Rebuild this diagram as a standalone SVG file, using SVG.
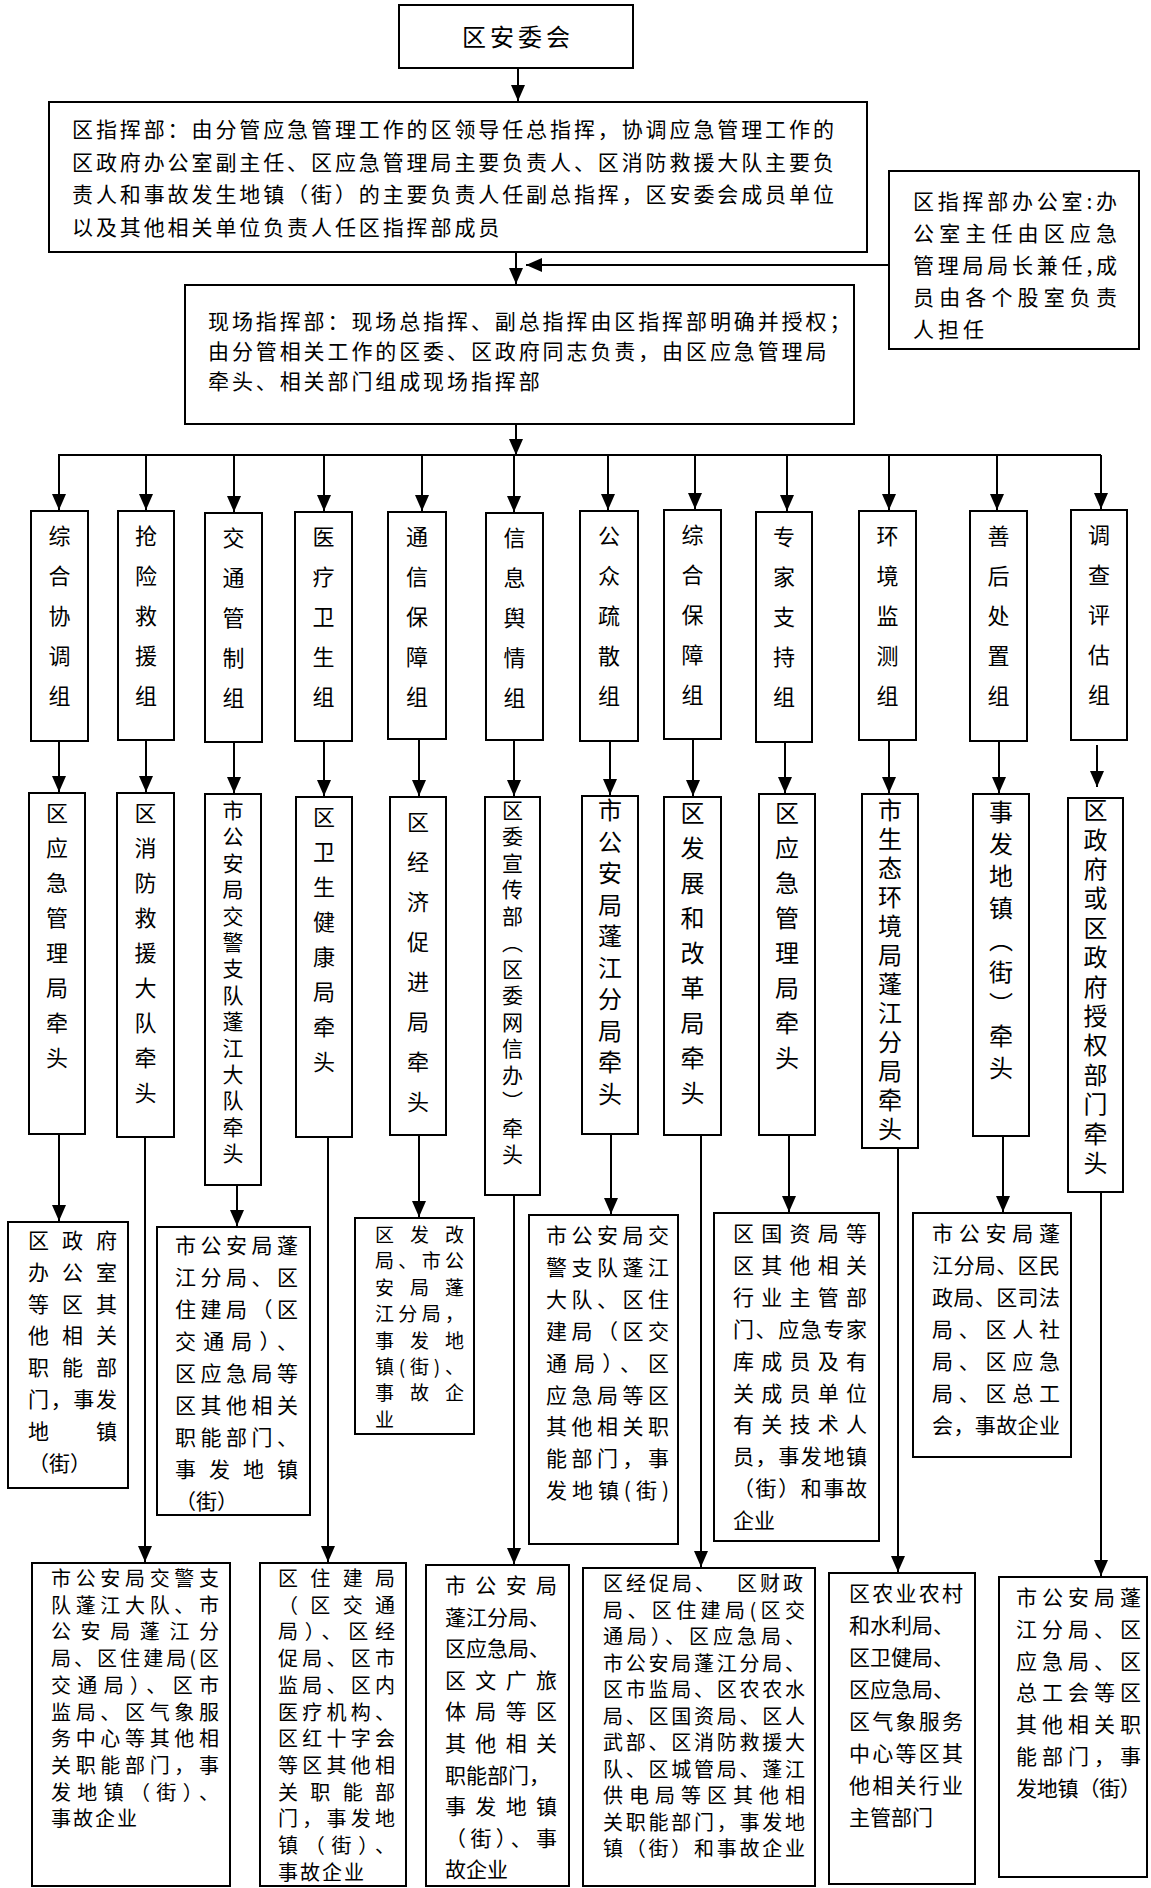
<svg xmlns="http://www.w3.org/2000/svg" width="1151" height="1888" viewBox="0 0 1151 1888">
<defs>
<style>
.box{fill:#fff;stroke:#000;stroke-width:2}
.t{font-family:"Noto Sans CJK SC","Noto Sans CJK JP",sans-serif;fill:#000}
.v{writing-mode:vertical-rl}
.c line{stroke:#000;stroke-width:2;fill:none}
.a{marker-end:url(#ah)}
</style>
<marker id="ah" markerUnits="userSpaceOnUse" markerWidth="16" markerHeight="14" viewBox="0 0 16 14" refX="16" refY="7" orient="auto"><path d="M0,0 L16,7 L0,14 z" fill="#000"/></marker>
</defs>
<rect width="1151" height="1888" fill="#fff"/>

<g id="connectors" class="c">
<line class="a" x1="518" y1="68" x2="518" y2="101"/>
<line class="a" x1="516" y1="252" x2="516" y2="284"/>
<line class="a" x1="889" y1="265" x2="526" y2="265"/>
<line class="a" x1="516" y1="424" x2="516" y2="455"/>
<line x1="58" y1="455" x2="1101" y2="455"/>
<line class="a" x1="59" y1="455" x2="59" y2="510"/>
<line class="a" x1="146" y1="455" x2="146" y2="510"/>
<line class="a" x1="234" y1="455" x2="234" y2="512"/>
<line class="a" x1="324" y1="455" x2="324" y2="511"/>
<line class="a" x1="422" y1="455" x2="422" y2="511"/>
<line class="a" x1="514" y1="455" x2="514" y2="512"/>
<line class="a" x1="608" y1="455" x2="608" y2="510"/>
<line class="a" x1="695" y1="455" x2="695" y2="509"/>
<line class="a" x1="787" y1="455" x2="787" y2="511"/>
<line class="a" x1="889" y1="455" x2="889" y2="510"/>
<line class="a" x1="997" y1="455" x2="997" y2="510"/>
<line class="a" x1="1101" y1="455" x2="1101" y2="509"/>
<line class="a" x1="59" y1="741" x2="59" y2="792"/>
<line class="a" x1="146" y1="740" x2="146" y2="792"/>
<line class="a" x1="234" y1="742" x2="234" y2="793"/>
<line class="a" x1="324" y1="741" x2="324" y2="796"/>
<line class="a" x1="419" y1="739" x2="419" y2="796"/>
<line class="a" x1="514" y1="740" x2="514" y2="796"/>
<line class="a" x1="610" y1="741" x2="610" y2="795"/>
<line class="a" x1="693" y1="739" x2="693" y2="796"/>
<line class="a" x1="785" y1="742" x2="785" y2="793"/>
<line class="a" x1="889" y1="740" x2="889" y2="793"/>
<line class="a" x1="999" y1="741" x2="999" y2="793"/>
<line class="a" x1="1097" y1="745" x2="1097" y2="787"/>
<line class="a" x1="59" y1="1134" x2="59" y2="1221"/>
<line class="a" x1="145" y1="1137" x2="145" y2="1562"/>
<line class="a" x1="237" y1="1185" x2="237" y2="1226"/>
<line class="a" x1="328" y1="1137" x2="328" y2="1562"/>
<line class="a" x1="419" y1="1135" x2="419" y2="1217"/>
<line class="a" x1="514" y1="1195" x2="514" y2="1564"/>
<line class="a" x1="611" y1="1134" x2="611" y2="1214"/>
<line class="a" x1="701" y1="1135" x2="701" y2="1567"/>
<line class="a" x1="789" y1="1135" x2="789" y2="1212"/>
<line class="a" x1="898" y1="1148" x2="898" y2="1572"/>
<line class="a" x1="1003" y1="1136" x2="1003" y2="1212"/>
<line class="a" x1="1101" y1="1192" x2="1101" y2="1576"/>
</g>

<g id="n-anweihui">
<rect class="box" x="399" y="5" width="234" height="63"/>
<text class="t" x="462" y="46" font-size="24" letter-spacing="4">区安委会</text>
</g>

<g id="n-zhihuibu">
<rect class="box" x="49" y="102" width="818" height="150"/>
<text class="t" font-size="21" letter-spacing="2.9">
<tspan x="72" y="137">区指挥部：由分管应急管理工作的区领导任总指挥，协调应急管理工作的</tspan>
<tspan x="72" y="169.5">区政府办公室副主任、区应急管理局主要负责人、区消防救援大队主要负</tspan>
<tspan x="72" y="202">责人和事故发生地镇（街）的主要负责人任副总指挥，区安委会成员单位</tspan>
<tspan x="72" y="234.5">以及其他相关单位负责人任区指挥部成员</tspan>
</text>
</g>

<g id="n-office">
<rect class="box" x="889" y="171" width="250" height="178"/>
<text class="t" font-size="21">
<tspan x="913" y="209" textLength="204" lengthAdjust="spacing">区指挥部办公室:办</tspan>
<tspan x="913" y="241" textLength="204" lengthAdjust="spacing">公室主任由区应急</tspan>
<tspan x="913" y="273" textLength="204" lengthAdjust="spacing">管理局局长兼任,成</tspan>
<tspan x="913" y="305" textLength="204" lengthAdjust="spacing">员由各个股室负责</tspan>
<tspan x="913" y="337" letter-spacing="4">人担任</tspan>
</text>
</g>

<g id="n-xianchang">
<rect class="box" x="185" y="285" width="669" height="139"/>
<text class="t" font-size="21" letter-spacing="2.9">
<tspan x="208" y="329">现场指挥部：现场总指挥、副总指挥由区指挥部明确并授权；</tspan>
<tspan x="208" y="359">由分管相关工作的区委、区政府同志负责，由区应急管理局</tspan>
<tspan x="208" y="389">牵头、相关部门组成现场指挥部</tspan>
</text>
</g>

<g id="g1"><rect class="box" x="31" y="511" width="57" height="230"/><text class="t v" x="59.5" y="525 565 605 645 685" font-size="22">综合协调组</text></g>
<g id="g2"><rect class="box" x="118" y="511" width="56" height="229"/><text class="t v" x="146" y="525 565 605 645 685" font-size="22">抢险救援组</text></g>
<g id="g3"><rect class="box" x="205" y="513" width="57" height="229"/><text class="t v" x="233.5" y="527 567 607 647 687" font-size="22">交通管制组</text></g>
<g id="g4"><rect class="box" x="295" y="512" width="57" height="229"/><text class="t v" x="323.5" y="526 566 606 646 686" font-size="22">医疗卫生组</text></g>
<g id="g5"><rect class="box" x="388" y="512" width="58" height="227"/><text class="t v" x="417" y="526 566 606 646 686" font-size="22">通信保障组</text></g>
<g id="g6"><rect class="box" x="486" y="513" width="57" height="227"/><text class="t v" x="514.5" y="527 567 607 647 687" font-size="22">信息舆情组</text></g>
<g id="g7"><rect class="box" x="580" y="511" width="58" height="230"/><text class="t v" x="609" y="525 565 605 645 685" font-size="22">公众疏散组</text></g>
<g id="g8"><rect class="box" x="664" y="510" width="57" height="229"/><text class="t v" x="692.5" y="524 564 604 644 684" font-size="22">综合保障组</text></g>
<g id="g9"><rect class="box" x="756" y="512" width="56" height="230"/><text class="t v" x="784" y="526 566 606 646 686" font-size="22">专家支持组</text></g>
<g id="g10"><rect class="box" x="859" y="511" width="57" height="229"/><text class="t v" x="887.5" y="525 565 605 645 685" font-size="22">环境监测组</text></g>
<g id="g11"><rect class="box" x="970" y="511" width="57" height="230"/><text class="t v" x="998.5" y="525 565 605 645 685" font-size="22">善后处置组</text></g>
<g id="g12"><rect class="box" x="1071" y="510" width="56" height="230"/><text class="t v" x="1099" y="524 564 604 644 684" font-size="22">调查评估组</text></g>

<g id="l1"><rect class="box" x="29" y="793" width="56" height="341"/><text class="t v" x="57" y="802 837 872 907 942 977 1012 1047" font-size="22">区应急管理局牵头</text></g>
<g id="l2"><rect class="box" x="117" y="793" width="57" height="344"/><text class="t v" x="145.5" y="802 837 872 907 942 977 1012 1047 1082" font-size="22">区消防救援大队牵头</text></g>
<g id="l3"><rect class="box" x="205" y="794" width="56" height="391"/><text class="t v" x="233" y="799.5 825.9 852.3 878.7 905.1 931.5 957.9 984.3 1010.7 1037.1 1063.5 1089.9 1116.3 1142.7" font-size="21">市公安局交警支队蓬江大队牵头</text></g>
<g id="l4"><rect class="box" x="296" y="797" width="56" height="340"/><text class="t v" x="324" y="806 841 876 911 946 981 1016 1051" font-size="22">区卫生健康局牵头</text></g>
<g id="l5"><rect class="box" x="390" y="797" width="56" height="338"/><text class="t v" x="418" y="811 851 891 931 971 1011 1051 1091" font-size="22">区经济促进局牵头</text></g>
<g id="l6"><rect class="box" x="485" y="797" width="55" height="398"/><text class="t v" x="512.5" y="799.5 826 852.5 879 905.5 932 958.5 985 1011.5 1038 1064.5 1091 1117.5 1144" font-size="21">区委宣传部（区委网信办）牵头</text></g>
<g id="l7"><rect class="box" x="582" y="796" width="56" height="338"/><text class="t v" x="610" y="798 829.5 861 892.5 924 955.5 987 1018.5 1050 1081.5" font-size="24">市公安局蓬江分局牵头</text></g>
<g id="l8"><rect class="box" x="664" y="797" width="57" height="338"/><text class="t v" x="692.5" y="801 836 871 906 941 976 1011 1046 1081" font-size="24">区发展和改革局牵头</text></g>
<g id="l9"><rect class="box" x="759" y="794" width="56" height="341"/><text class="t v" x="787" y="801 836 871 906 941 976 1011 1046" font-size="24">区应急管理局牵头</text></g>
<g id="l10"><rect class="box" x="862" y="794" width="56" height="354"/><text class="t v" x="890" y="798 827 856 885 914 943 972 1001 1030 1059 1088 1117" font-size="24">市生态环境局蓬江分局牵头</text></g>
<g id="l11"><rect class="box" x="973" y="794" width="56" height="342"/><text class="t v" x="1001" y="800 832 864 896 928 960 992 1024 1056" font-size="24">事发地镇（街）牵头</text></g>
<g id="l12"><rect class="box" x="1068" y="798" width="55" height="394"/><text class="t v" x="1095.5" y="798 827.4 856.8 886.2 915.6 945 974.4 1003.8 1033.2 1062.6 1092 1121.4 1150.8" font-size="24">区政府或区政府授权部门牵头</text></g>

<g id="d1">
<rect class="box" x="8" y="1222" width="120" height="266"/>
<text class="t" font-size="21">
<tspan x="28" y="1248" textLength="89" lengthAdjust="spacing">区政府</tspan>
<tspan x="28" y="1279.8" textLength="89" lengthAdjust="spacing">办公室</tspan>
<tspan x="28" y="1311.6" textLength="89" lengthAdjust="spacing">等区其</tspan>
<tspan x="28" y="1343.4" textLength="89" lengthAdjust="spacing">他相关</tspan>
<tspan x="28" y="1375.2" textLength="89" lengthAdjust="spacing">职能部</tspan>
<tspan x="28" y="1407" textLength="89" lengthAdjust="spacing">门，事发</tspan>
<tspan x="28" y="1438.8" textLength="89" lengthAdjust="spacing">地镇</tspan>
<tspan x="28" y="1470.6">（街）</tspan>
</text>
</g>

<g id="d3">
<rect class="box" x="157" y="1227" width="153" height="288"/>
<text class="t" font-size="21">
<tspan x="175" y="1253" textLength="123" lengthAdjust="spacing">市公安局蓬</tspan>
<tspan x="175" y="1285" textLength="123" lengthAdjust="spacing">江分局、区</tspan>
<tspan x="175" y="1317" textLength="123" lengthAdjust="spacing">住建局（区</tspan>
<tspan x="175" y="1349" textLength="123" lengthAdjust="spacing">交通局）、</tspan>
<tspan x="175" y="1381" textLength="123" lengthAdjust="spacing">区应急局等</tspan>
<tspan x="175" y="1413" textLength="123" lengthAdjust="spacing">区其他相关</tspan>
<tspan x="175" y="1445" textLength="123" lengthAdjust="spacing">职能部门、</tspan>
<tspan x="175" y="1477" textLength="123" lengthAdjust="spacing">事发地镇</tspan>
<tspan x="175" y="1509">（街）</tspan>
</text>
</g>

<g id="d5">
<rect class="box" x="355" y="1218" width="119" height="216"/>
<text class="t" font-size="19">
<tspan x="375" y="1242" textLength="89" lengthAdjust="spacing">区发改</tspan>
<tspan x="375" y="1268.4" textLength="89" lengthAdjust="spacing">局、市公</tspan>
<tspan x="375" y="1294.8" textLength="89" lengthAdjust="spacing">安局蓬</tspan>
<tspan x="375" y="1321.2" textLength="89" lengthAdjust="spacing">江分局，</tspan>
<tspan x="375" y="1347.6" textLength="89" lengthAdjust="spacing">事发地</tspan>
<tspan x="375" y="1374" textLength="89" lengthAdjust="spacing">镇(街)、</tspan>
<tspan x="375" y="1400.4" textLength="89" lengthAdjust="spacing">事故企</tspan>
<tspan x="375" y="1426.8">业</tspan>
</text>
</g>

<g id="d7">
<rect class="box" x="529" y="1215" width="149" height="329"/>
<text class="t" font-size="21">
<tspan x="546" y="1243" textLength="123" lengthAdjust="spacing">市公安局交</tspan>
<tspan x="546" y="1274.9" textLength="123" lengthAdjust="spacing">警支队蓬江</tspan>
<tspan x="546" y="1306.8" textLength="123" lengthAdjust="spacing">大队、区住</tspan>
<tspan x="546" y="1338.7" textLength="123" lengthAdjust="spacing">建局（区交</tspan>
<tspan x="546" y="1370.6" textLength="123" lengthAdjust="spacing">通局）、区</tspan>
<tspan x="546" y="1402.5" textLength="123" lengthAdjust="spacing">应急局等区</tspan>
<tspan x="546" y="1434.4" textLength="123" lengthAdjust="spacing">其他相关职</tspan>
<tspan x="546" y="1466.3" textLength="123" lengthAdjust="spacing">能部门，事</tspan>
<tspan x="546" y="1498.2" textLength="123" lengthAdjust="spacing">发地镇(街)</tspan>
</text>
</g>

<g id="d9">
<rect class="box" x="714" y="1213" width="165" height="328"/>
<text class="t" font-size="21">
<tspan x="733" y="1241" textLength="134" lengthAdjust="spacing">区国资局等</tspan>
<tspan x="733" y="1272.9" textLength="134" lengthAdjust="spacing">区其他相关</tspan>
<tspan x="733" y="1304.8" textLength="134" lengthAdjust="spacing">行业主管部</tspan>
<tspan x="733" y="1336.7" textLength="134" lengthAdjust="spacing">门、应急专家</tspan>
<tspan x="733" y="1368.6" textLength="134" lengthAdjust="spacing">库成员及有</tspan>
<tspan x="733" y="1400.5" textLength="134" lengthAdjust="spacing">关成员单位</tspan>
<tspan x="733" y="1432.4" textLength="134" lengthAdjust="spacing">有关技术人</tspan>
<tspan x="733" y="1464.3" textLength="134" lengthAdjust="spacing">员，事发地镇</tspan>
<tspan x="733" y="1496.2" textLength="134" lengthAdjust="spacing">（街）和事故</tspan>
<tspan x="733" y="1528.1">企业</tspan>
</text>
</g>

<g id="d11">
<rect class="box" x="913" y="1213" width="158" height="244"/>
<text class="t" font-size="21">
<tspan x="932" y="1241" textLength="128" lengthAdjust="spacing">市公安局蓬</tspan>
<tspan x="932" y="1273" textLength="128" lengthAdjust="spacing">江分局、区民</tspan>
<tspan x="932" y="1305" textLength="128" lengthAdjust="spacing">政局、区司法</tspan>
<tspan x="932" y="1337" textLength="128" lengthAdjust="spacing">局、区人社</tspan>
<tspan x="932" y="1369" textLength="128" lengthAdjust="spacing">局、区应急</tspan>
<tspan x="932" y="1401" textLength="128" lengthAdjust="spacing">局、区总工</tspan>
<tspan x="932" y="1433" textLength="128" lengthAdjust="spacing">会，事故企业</tspan>
</text>
</g>

<g id="d2">
<rect class="box" x="32" y="1563" width="198" height="323"/>
<text class="t" font-size="20">
<tspan x="51" y="1586" textLength="168" lengthAdjust="spacing">市公安局交警支</tspan>
<tspan x="51" y="1612.7" textLength="168" lengthAdjust="spacing">队蓬江大队、市</tspan>
<tspan x="51" y="1639.4" textLength="168" lengthAdjust="spacing">公安局蓬江分</tspan>
<tspan x="51" y="1666.1" textLength="168" lengthAdjust="spacing">局、区住建局(区</tspan>
<tspan x="51" y="1692.8" textLength="168" lengthAdjust="spacing">交通局）、区市</tspan>
<tspan x="51" y="1719.5" textLength="168" lengthAdjust="spacing">监局、区气象服</tspan>
<tspan x="51" y="1746.2" textLength="168" lengthAdjust="spacing">务中心等其他相</tspan>
<tspan x="51" y="1772.9" textLength="168" lengthAdjust="spacing">关职能部门，事</tspan>
<tspan x="51" y="1799.6" textLength="168" lengthAdjust="spacing">发地镇（街）、</tspan>
<tspan x="51" y="1826.3" letter-spacing="2">事故企业</tspan>
</text>
</g>

<g id="d4">
<rect class="box" x="260" y="1563" width="146" height="323"/>
<text class="t" font-size="20">
<tspan x="278" y="1586" textLength="117" lengthAdjust="spacing">区住建局</tspan>
<tspan x="278" y="1612.7" textLength="117" lengthAdjust="spacing">（区交通</tspan>
<tspan x="278" y="1639.4" textLength="117" lengthAdjust="spacing">局）、区经</tspan>
<tspan x="278" y="1666.1" textLength="117" lengthAdjust="spacing">促局、区市</tspan>
<tspan x="278" y="1692.8" textLength="117" lengthAdjust="spacing">监局、区内</tspan>
<tspan x="278" y="1719.5" textLength="117" lengthAdjust="spacing">医疗机构、</tspan>
<tspan x="278" y="1746.2" textLength="117" lengthAdjust="spacing">区红十字会</tspan>
<tspan x="278" y="1772.9" textLength="117" lengthAdjust="spacing">等区其他相</tspan>
<tspan x="278" y="1799.6" textLength="117" lengthAdjust="spacing">关职能部</tspan>
<tspan x="278" y="1826.3" textLength="117" lengthAdjust="spacing">门，事发地</tspan>
<tspan x="278" y="1853" textLength="117" lengthAdjust="spacing">镇（街）、</tspan>
<tspan x="278" y="1879.7" letter-spacing="2">事故企业</tspan>
</text>
</g>

<g id="d6">
<rect class="box" x="426" y="1565" width="143" height="321"/>
<text class="t" font-size="21">
<tspan x="445" y="1593" textLength="112" lengthAdjust="spacing">市公安局</tspan>
<tspan x="445" y="1624.6">蓬江分局、</tspan>
<tspan x="445" y="1656.2">区应急局、</tspan>
<tspan x="445" y="1687.8" textLength="112" lengthAdjust="spacing">区文广旅</tspan>
<tspan x="445" y="1719.4" textLength="112" lengthAdjust="spacing">体局等区</tspan>
<tspan x="445" y="1751" textLength="112" lengthAdjust="spacing">其他相关</tspan>
<tspan x="445" y="1782.6">职能部门，</tspan>
<tspan x="445" y="1814.2" textLength="112" lengthAdjust="spacing">事发地镇</tspan>
<tspan x="445" y="1845.8" textLength="112" lengthAdjust="spacing">（街）、事</tspan>
<tspan x="445" y="1877.4">故企业</tspan>
</text>
</g>

<g id="d8">
<rect class="box" x="583" y="1568" width="232" height="318"/>
<text class="t" font-size="20">
<tspan x="603 626 649 672 695 737 760 783" y="1591">区经促局、区财政</tspan>
<tspan x="603" y="1617.5" textLength="202" lengthAdjust="spacing">局、区住建局(区交</tspan>
<tspan x="603" y="1644" textLength="202" lengthAdjust="spacing">通局）、区应急局、</tspan>
<tspan x="603" y="1670.5" textLength="202" lengthAdjust="spacing">市公安局蓬江分局、</tspan>
<tspan x="603" y="1697" textLength="202" lengthAdjust="spacing">区市监局、区农农水</tspan>
<tspan x="603" y="1723.5" textLength="202" lengthAdjust="spacing">局、区国资局、区人</tspan>
<tspan x="603" y="1750" textLength="202" lengthAdjust="spacing">武部、区消防救援大</tspan>
<tspan x="603" y="1776.5" textLength="202" lengthAdjust="spacing">队、区城管局、蓬江</tspan>
<tspan x="603" y="1803" textLength="202" lengthAdjust="spacing">供电局等区其他相</tspan>
<tspan x="603" y="1829.5" textLength="202" lengthAdjust="spacing">关职能部门，事发地</tspan>
<tspan x="603" y="1856" textLength="202" lengthAdjust="spacing">镇（街）和事故企业</tspan>
</text>
</g>

<g id="d10">
<rect class="box" x="829" y="1573" width="146" height="311"/>
<text class="t" font-size="21">
<tspan x="849" y="1601" textLength="114" lengthAdjust="spacing">区农业农村</tspan>
<tspan x="849" y="1633">和水利局、</tspan>
<tspan x="849" y="1665">区卫健局、</tspan>
<tspan x="849" y="1697">区应急局、</tspan>
<tspan x="849" y="1729" textLength="114" lengthAdjust="spacing">区气象服务</tspan>
<tspan x="849" y="1761" textLength="114" lengthAdjust="spacing">中心等区其</tspan>
<tspan x="849" y="1793" textLength="114" lengthAdjust="spacing">他相关行业</tspan>
<tspan x="849" y="1825">主管部门</tspan>
</text>
</g>

<g id="d12">
<rect class="box" x="999" y="1577" width="148" height="300"/>
<text class="t" font-size="21">
<tspan x="1016" y="1605" textLength="125" lengthAdjust="spacing">市公安局蓬</tspan>
<tspan x="1016" y="1636.8" textLength="125" lengthAdjust="spacing">江分局、区</tspan>
<tspan x="1016" y="1668.6" textLength="125" lengthAdjust="spacing">应急局、区</tspan>
<tspan x="1016" y="1700.4" textLength="125" lengthAdjust="spacing">总工会等区</tspan>
<tspan x="1016" y="1732.2" textLength="125" lengthAdjust="spacing">其他相关职</tspan>
<tspan x="1016" y="1764" textLength="125" lengthAdjust="spacing">能部门，事</tspan>
<tspan x="1016" y="1795.8" textLength="125" lengthAdjust="spacing">发地镇（街）</tspan>
</text>
</g>
</svg>
